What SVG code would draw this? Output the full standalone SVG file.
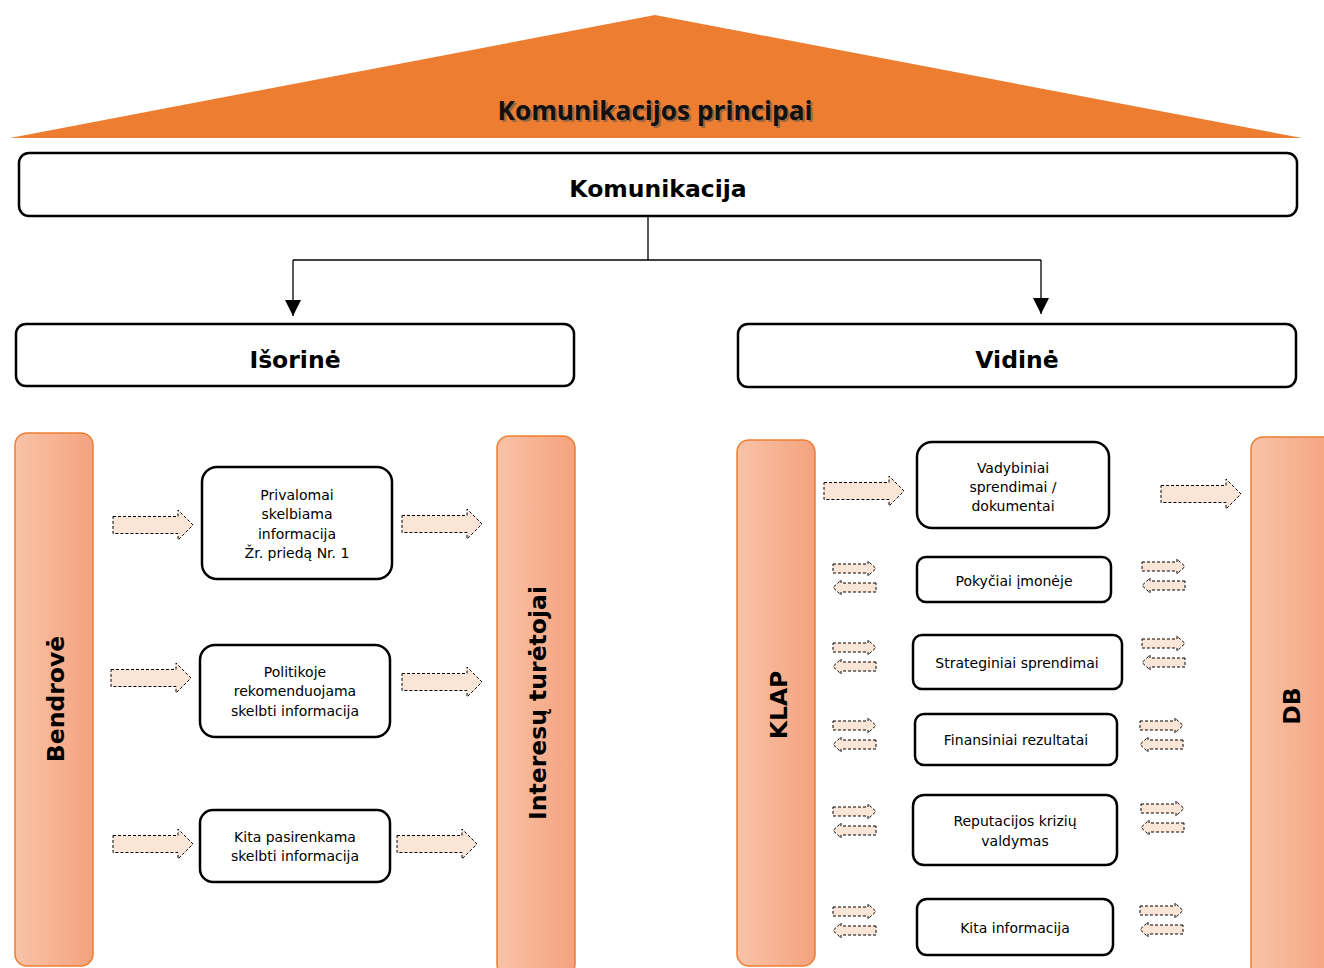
<svg xmlns="http://www.w3.org/2000/svg" width="1324" height="968" viewBox="0 0 1324 968">
<defs>
<linearGradient id="barGrad" x1="0" y1="0" x2="1" y2="0">
<stop offset="0" stop-color="#F8C3A7"/>
<stop offset="1" stop-color="#F4A27E"/>
</linearGradient>
<marker id="tri2" viewBox="0 0 16 16" refX="16" refY="8" markerWidth="16" markerHeight="16" markerUnits="userSpaceOnUse" orient="auto">
<path d="M0,0 L16,8 L0,16 Z" fill="#000"/>
</marker>
<path id="bigArrow" d="M0,-8.5 H65 V-15 L80,0 L65,15 V8.5 H0 Z"/>
<g id="dbl">
<path d="M0,-14 H35 V-17 L43,-9.5 L35,-2 V-5 H0 Z"/>
<path d="M43,5 H8 V2 L0,9.5 L8,17 V14 H43 Z"/>
</g>
</defs>
<style>
.hdr{fill:#fff;stroke:#000;stroke-width:2.5}
.node{fill:#fff;stroke:#000;stroke-width:2.5}
.bar{fill:url(#barGrad);stroke:#ED7D31;stroke-width:1.5}
.arr{fill:#FBE5D6;stroke:#000;stroke-width:1;stroke-dasharray:3 2}
.htxt{font-family:"DejaVu Sans",Verdana,sans-serif;font-weight:bold;font-size:23.5px;fill:#000;text-anchor:middle}
.ntxt{font-family:"DejaVu Sans",Verdana,sans-serif;font-size:14px;fill:#000;text-anchor:middle}
.btxt{font-family:"DejaVu Sans",Verdana,sans-serif;font-weight:bold;font-size:23.5px;fill:#000;text-anchor:middle}
.conn{fill:none;stroke:#000;stroke-width:1.3}
</style>
<rect width="1324" height="968" fill="#fff"/>

<g id="roof">
<polygon points="655,15 1302,138 10,138" fill="#ED7D31"/>
<text x="657" y="122" font-family="'Open Sans',sans-serif" font-weight="bold" font-size="27" fill="#555" opacity="0.55" text-anchor="middle" textLength="315" lengthAdjust="spacingAndGlyphs">Komunikacijos principai</text>
<text x="655" y="120" font-family="'Open Sans',sans-serif" font-weight="bold" font-size="27" fill="#111" text-anchor="middle" textLength="315" lengthAdjust="spacingAndGlyphs">Komunikacijos principai</text>
</g>

<g id="komunikacija">
<rect class="hdr" x="19" y="153" width="1278" height="63" rx="10"/>
<text class="htxt" x="658" y="197">Komunikacija</text>
</g>

<g id="connectors">
<path class="conn" d="M648,216 V260"/>
<path class="conn" d="M293,260 H1041"/>
<path class="conn" d="M293,260 V316" marker-end="url(#tri2)"/>
<path class="conn" d="M1041,260 V314" marker-end="url(#tri2)"/>
</g>

<g id="isorine">
<rect class="hdr" x="16" y="324" width="558" height="62" rx="10"/>
<text class="htxt" x="295" y="368">Išorinė</text>
</g>

<g id="vidine">
<rect class="hdr" x="738" y="324" width="558" height="63" rx="10"/>
<text class="htxt" x="1017" y="368">Vidinė</text>
</g>

<g id="bendrove">
<rect class="bar" x="15" y="433" width="78" height="533" rx="12"/>
<text class="btxt" transform="translate(64,699) rotate(-90)">Bendrovė</text>
</g>

<g id="interesu-turetojai">
<rect class="bar" x="497" y="436" width="78" height="540" rx="12"/>
<text class="btxt" transform="translate(546,703) rotate(-90)">Interesų turėtojai</text>
</g>

<g id="klap">
<rect class="bar" x="737" y="440" width="78" height="526" rx="12"/>
<text class="btxt" transform="translate(787,705) rotate(-90)">KLAP</text>
</g>

<g id="db">
<rect class="bar" x="1251" y="437" width="85" height="545" rx="12"/>
<text class="btxt" transform="translate(1300,706) rotate(-90)">DB</text>
</g>

<g id="privalomai">
<rect class="node" x="202" y="467" width="190" height="112" rx="15"/>
<text class="ntxt" x="297" y="500">Privalomai</text>
<text class="ntxt" x="297" y="519">skelbiama</text>
<text class="ntxt" x="297" y="539">informacija</text>
<text class="ntxt" x="297" y="558">Žr. priedą Nr. 1</text>
</g>

<g id="politikoje">
<rect class="node" x="200" y="645" width="190" height="92" rx="15"/>
<text class="ntxt" x="295" y="677">Politikoje</text>
<text class="ntxt" x="295" y="696">rekomenduojama</text>
<text class="ntxt" x="295" y="716">skelbti informacija</text>
</g>

<g id="kita-pasirenkama">
<rect class="node" x="200" y="810" width="190" height="72" rx="13"/>
<text class="ntxt" x="295" y="842">Kita pasirenkama</text>
<text class="ntxt" x="295" y="861">skelbti informacija</text>
</g>

<g id="vadybiniai">
<rect class="node" x="917" y="442" width="192" height="86" rx="15"/>
<text class="ntxt" x="1013" y="473">Vadybiniai</text>
<text class="ntxt" x="1013" y="492">sprendimai /</text>
<text class="ntxt" x="1013" y="511">dokumentai</text>
</g>

<g id="pokyciai">
<rect class="node" x="917" y="557" width="194" height="45" rx="9"/>
<text class="ntxt" x="1014" y="586">Pokyčiai įmonėje</text>
</g>

<g id="strateginiai">
<rect class="node" x="913" y="635" width="209" height="54" rx="9"/>
<text class="ntxt" x="1017" y="668">Strateginiai sprendimai</text>
</g>

<g id="finansiniai">
<rect class="node" x="915" y="714" width="202" height="51" rx="9"/>
<text class="ntxt" x="1016" y="745">Finansiniai rezultatai</text>
</g>

<g id="reputacijos">
<rect class="node" x="913" y="795" width="204" height="70" rx="11"/>
<text class="ntxt" x="1015" y="826">Reputacijos krizių</text>
<text class="ntxt" x="1015" y="846">valdymas</text>
</g>

<g id="kita-informacija">
<rect class="node" x="917" y="899" width="196" height="56" rx="10"/>
<text class="ntxt" x="1015" y="933">Kita informacija</text>
</g>

<g id="flow-arrows" class="arr">
<use href="#bigArrow" x="113" y="525"/>
<use href="#bigArrow" x="111" y="678"/>
<use href="#bigArrow" x="113" y="844"/>
<use href="#bigArrow" x="402" y="524"/>
<use href="#bigArrow" x="402" y="682"/>
<use href="#bigArrow" x="397" y="844"/>
<use href="#bigArrow" x="824" y="491"/>
<use href="#bigArrow" x="1161" y="494"/>
<use href="#dbl" x="833" y="578"/>
<use href="#dbl" x="833" y="657"/>
<use href="#dbl" x="833" y="735"/>
<use href="#dbl" x="833" y="821"/>
<use href="#dbl" x="833" y="921"/>
<use href="#dbl" x="1142" y="576"/>
<use href="#dbl" x="1142" y="653"/>
<use href="#dbl" x="1140" y="735"/>
<use href="#dbl" x="1141" y="818"/>
<use href="#dbl" x="1140" y="920"/>
</g>
</svg>
